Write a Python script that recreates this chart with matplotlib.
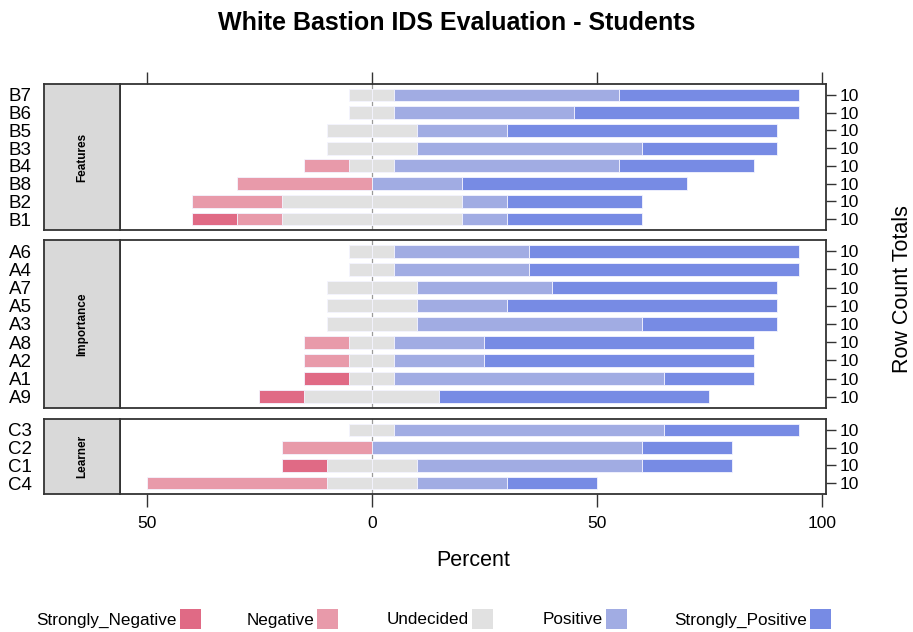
import matplotlib
matplotlib.use("Agg")
import matplotlib.pyplot as plt
from matplotlib.patches import Rectangle

plt.rcParams['font.family'] = ['Liberation Sans', 'DejaVu Sans']

# ---------------- data (counts out of row totals) ----------------
levels = ["Strongly_Negative", "Negative", "Undecided", "Positive", "Strongly_Positive"]
colors = ["#E06A85", "#E89AAA", "#E1E1E1", "#A1ACE3", "#778BE4"]

panel_names = ["Features", "Importance", "Learner"]

features_items = ["B7", "B6", "B5", "B3", "B4", "B8", "B2", "B1"]
features_sn = [0, 0, 0, 0, 0, 0, 0, 1]
features_n = [0, 0, 0, 0, 1, 3, 2, 1]
features_u = [1, 1, 2, 2, 1, 0, 4, 4]
features_p = [5, 4, 2, 5, 5, 2, 1, 1]
features_sp = [4, 5, 6, 3, 3, 5, 3, 3]

importance_items = ["A6", "A4", "A7", "A5", "A3", "A8", "A2", "A1", "A9"]
importance_sn = [0, 0, 0, 0, 0, 0, 0, 1, 1]
importance_n = [0, 0, 0, 0, 0, 1, 1, 0, 0]
importance_u = [1, 1, 2, 2, 2, 1, 1, 1, 3]
importance_p = [3, 3, 3, 2, 5, 2, 2, 6, 0]
importance_sp = [6, 6, 5, 6, 3, 6, 6, 2, 6]

learner_items = ["C3", "C2", "C1", "C4"]
learner_sn = [0, 0, 1, 0]
learner_n = [0, 2, 0, 4]
learner_u = [1, 0, 2, 2]
learner_p = [6, 6, 5, 2]
learner_sp = [3, 2, 2, 2]

x_ticks = [-50, 0, 50, 100]
x_tick_labels = ["50", "0", "50", "100"]

panels = [
    (features_items, [features_sn, features_n, features_u, features_p, features_sp]),
    (importance_items, [importance_sn, importance_n, importance_u, importance_p, importance_sp]),
    (learner_items, [learner_sn, learner_n, learner_u, learner_p, learner_sp]),
]

# ---------------- layout (pixel based) ----------------
W, H = 913, 632
fig = plt.figure(figsize=(W / 100, H / 100), dpi=100)

def fx(px):
    return px / W

def fy(py):
    return 1 - py / H

strip_left, main_left, main_right = 44, 120, 826
panel_y = [(84, 230), (240, 408), (419, 494)]

xlim = (-56.0, 100.9)
bar_h = 0.72
spine_col = "#333333"

for k, ((items, counts), name, (ytop, ybot)) in enumerate(zip(panels, panel_names, panel_y)):
    n = len(items)
    totals = [sum(c[i] for c in counts) for i in range(n)]
    ax = fig.add_axes([fx(main_left), fy(ybot), fx(main_right - main_left), (ybot - ytop) / H])
    sax = fig.add_axes([fx(strip_left), fy(ybot), fx(main_left - strip_left), (ybot - ytop) / H])

    ypos = list(range(n, 0, -1))
    ax.axvline(0, color="#9A9A9A", lw=0.9, zorder=0)
    for i in range(n):
        tot = totals[i]
        pct = [c[i] * 100.0 / tot for c in counts]
        sn, ng, ud, ps, sp = pct
        segs = [(-ud / 2, ud / 2, 2), (-ud / 2 - ng, ng, 1), (-ud / 2 - ng - sn, sn, 0),
                (0, ud / 2, 2), (ud / 2, ps, 3), (ud / 2 + ps, sp, 4)]
        for left, width, li in segs:
            if width > 0:
                ax.barh(ypos[i], width, left=left, height=bar_h, color=colors[li],
                        edgecolor="#F4F4FF", linewidth=0.6, zorder=2)
    ax.set_xlim(*xlim)
    ax.set_ylim(1 - 0.62, n + 0.62)
    ax.yaxis.tick_right()
    ax.set_yticks(ypos)
    ax.set_yticklabels([str(t) for t in totals], fontsize=12.5)
    ax.tick_params(axis="y", length=7, width=1, color=spine_col, pad=3)
    for s in ax.spines.values():
        s.set_color(spine_col)
        s.set_linewidth(1.3)

    if k == 0:
        ax.xaxis.tick_top()
        ax.set_xticks(x_ticks)
        ax.set_xticklabels([])
        ax.tick_params(axis="x", length=9, width=1, color=spine_col)
    elif k == 2:
        ax.set_xticks(x_ticks)
        ax.set_xticklabels(x_tick_labels, fontsize=12.5)
        ax.tick_params(axis="x", length=9, width=1, color=spine_col, pad=7)
    else:
        ax.set_xticks([])

    # strip
    sax.set_facecolor("#D9D9D9")
    sax.set_xlim(0, 1)
    sax.set_ylim(1 - 0.62, n + 0.62)
    sax.set_xticks([])
    sax.set_yticks(ypos)
    sax.set_yticklabels(items, fontsize=13.5)
    sax.tick_params(axis="y", length=0, pad=9)
    for s in sax.spines.values():
        s.set_color(spine_col)
        s.set_linewidth(1.3)
    sax.text(0.5, (n + 1) / 2, name, rotation=90, ha="center", va="center",
             fontsize=8.5, fontweight="bold")

fig.text(0.5, fy(23), "White Bastion IDS Evaluation - Students", ha="center", va="center",
         fontsize=18, fontweight="bold")
fig.text(fx(473), fy(560), "Percent", ha="center", va="center", fontsize=15.5)
fig.text(fx(902), fy(289), "Row Count Totals", ha="center", va="center", rotation=90, fontsize=15.5)

# legend
leg_square_x = [180, 317, 472, 606, 810]
for lab, col, sx in zip(levels, colors, leg_square_x):
    fig.text(fx(sx - 3), fy(620), lab, ha="right", va="center", fontsize=12.3)
    fig.patches.append(Rectangle((fx(sx), fy(629)), fx(21), 20 / H, transform=fig.transFigure,
                                 facecolor=col, edgecolor="none"))

fig.savefig("out.png", dpi=100)
